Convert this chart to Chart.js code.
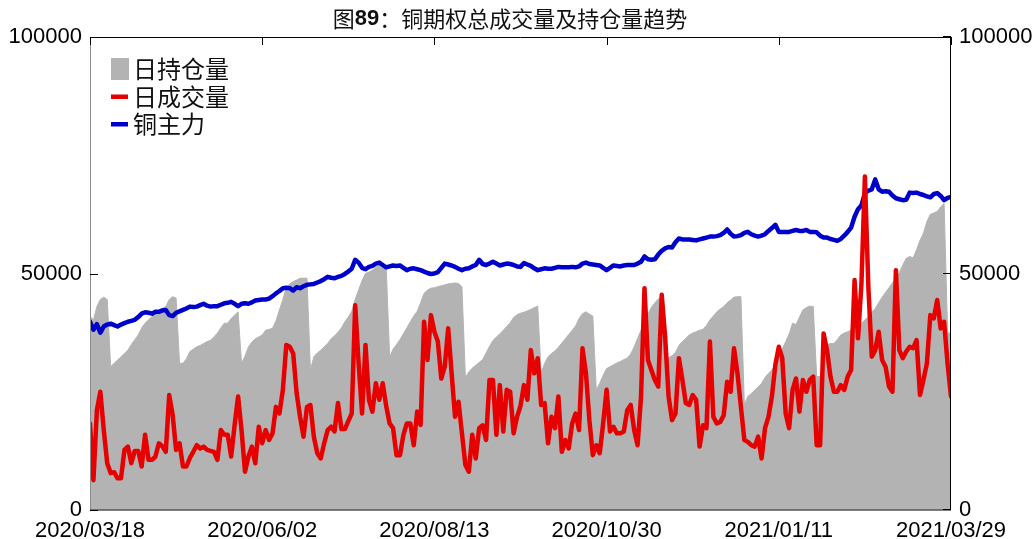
<!DOCTYPE html>
<html>
<head>
<meta charset="utf-8">
<script src="https://cdn.jsdelivr.net/npm/chart.js@4.4.1/dist/chart.umd.min.js"></script>
<style>
  html, body { margin: 0; padding: 0; background: #fff; }
  canvas { display: block; }
</style>
</head>
<body>
<canvas id="copperoptions" width="1035" height="539"></canvas>
<script>
// values, in thousands; one point per trading day
const UNIT = 1000;

const tickLabels = ['2020/03/18', '2020/06/02', '2020/08/13', '2020/10/30', '2021/01/11', '2021/03/29'];

// 日持仓量
const openInterest = [
  40.9,40.2,43.0,44.5,45.0,44.5,30.3,31.0,31.7,32.4,
  33.1,33.8,35.0,36.0,37.0,38.5,39.5,40.2,40.9,41.5,
  42.0,42.6,43.0,44.5,45.1,44.8,31.0,31.0,32.0,33.5,
  34.0,34.5,34.8,35.2,35.6,35.9,36.6,37.4,38.5,39.5,
  39.5,40.5,41.2,41.9,31.0,32.5,34.5,35.5,36.2,36.6,
  37.0,38.0,38.2,38.4,40.0,42.3,44.5,47.0,47.8,48.3,
  48.6,49.0,49.0,49.0,29.6,32.4,33.2,33.8,34.5,35.2,
  36.2,36.8,37.6,38.5,39.8,40.8,42.0,44.5,46.5,48.5,
  50.0,50.3,50.7,51.3,51.8,51.5,51.5,32.4,34.0,35.0,
  36.0,37.3,38.5,39.8,41.0,42.0,43.8,45.8,46.5,46.9,
  47.0,47.2,47.4,47.6,47.8,47.9,48.0,47.9,47.2,28.0,
  29.2,30.0,30.6,31.2,31.8,33.2,34.6,35.8,36.6,37.2,
  38.0,38.8,39.6,40.7,41.3,41.6,41.8,42.1,42.4,42.8,
  43.1,28.9,31.0,32.4,33.1,33.6,34.4,35.3,36.2,37.1,
  38.0,38.9,40.5,41.5,41.9,41.4,41.0,25.4,26.8,28.5,
  29.9,30.3,30.7,31.1,31.4,31.8,32.1,33.0,34.5,36.3,
  38.0,39.8,41.5,42.8,43.8,44.6,45.0,31.7,32.2,32.6,
  33.3,34.8,35.6,36.3,37.0,37.4,37.7,38.0,38.2,39.0,
  40.2,41.0,41.9,42.5,43.0,43.8,44.4,45.0,45.1,45.1,
  22.2,24.0,24.6,25.3,26.0,26.8,28.0,28.9,29.6,30.9,
  32.6,34.0,35.6,37.2,39.5,39.2,40.8,42.3,42.8,43.1,
  43.0,28.2,28.2,29.5,34.9,35.2,35.2,36.0,37.0,37.4,
  37.7,38.0,38.4,39.0,39.5,40.2,40.9,41.8,42.6,43.8,
  45.0,46.0,47.0,48.0,49.0,50.2,51.8,53.2,53.6,53.3,
  55.0,57.0,58.5,61.0,62.5,62.8,63.1,64.1,64.8,37.8,
  37.0
];

// 日成交量
const volume = [
  18.3,6.3,21.1,25.0,16.9,9.9,7.8,8.0,6.7,6.7,
  12.7,13.4,9.9,12.5,12.5,9.2,15.9,10.6,10.6,11.3,
  14.1,13.5,12.3,24.3,20.1,12.7,14.1,9.2,9.2,11.0,
  12.3,13.7,13.0,13.4,12.7,12.5,12.3,10.6,16.9,15.9,
  15.9,11.3,18.0,24.0,16.9,8.1,11.3,13.4,9.9,17.6,
  14.1,16.9,14.8,16.2,21.8,20.4,25.4,34.9,34.5,33.1,
  24.7,19.7,15.5,21.8,22.2,15.5,12.0,10.9,14.1,16.9,
  17.6,16.6,22.6,17.1,17.1,18.8,20.4,43.3,31.0,20.4,
  34.9,23.3,20.8,26.8,23.3,26.8,22.0,18.3,17.3,11.6,
  11.6,15.9,18.3,18.3,13.7,20.8,18.0,39.8,31.7,41.2,
  37.7,35.6,27.8,30.3,38.4,28.9,19.7,22.9,16.2,9.5,
  8.1,15.9,10.9,17.3,17.9,14.8,27.5,27.5,15.9,26.4,
  16.6,25.4,25.0,16.2,19.7,22.0,26.4,23.3,33.8,28.9,
  32.1,22.2,22.6,14.1,19.7,17.3,24.0,12.3,14.8,13.0,
  18.3,20.4,16.9,34.2,28.9,19.0,11.6,13.7,12.0,18.3,
  25.4,16.6,17.6,16.2,16.2,16.6,21.1,22.2,16.9,13.7,
  24.0,46.9,31.7,29.6,27.5,26.1,45.5,36.6,24.0,19.0,
  20.4,32.1,27.5,22.6,22.2,24.3,23.3,13.4,17.9,17.3,
  35.6,19.7,18.3,18.6,20.0,27.1,25.0,34.2,28.9,21.8,
  14.8,14.4,13.7,13.4,15.5,10.9,17.3,19.7,24.0,30.7,
  34.5,32.1,20.4,17.3,25.4,27.8,20.8,27.5,25.0,27.5,
  28.2,13.7,13.7,37.3,33.8,28.2,25.0,25.0,26.4,25.4,
  28.2,29.6,48.6,36.3,47.9,70.5,47.2,32.4,33.8,37.7,
  31.7,30.3,26.1,25.0,50.7,33.8,32.1,33.5,34.5,34.2,
  35.9,24.3,27.5,31.0,41.2,40.5,44.4,38.4,39.8,31.0,
  24.0
];

// 铜主力
const copperMain = [
  39.8,38.1,39.3,37.5,38.8,39.2,39.4,39.1,38.8,39.2,
  39.5,39.8,40.0,40.2,40.8,41.5,41.8,41.7,41.5,41.9,
  41.9,42.2,42.3,41.2,41.0,41.7,42.0,42.3,42.6,43.0,
  42.9,43.0,43.3,43.6,43.2,43.0,43.1,43.1,43.4,43.7,
  43.8,44.0,43.6,43.1,43.6,43.7,43.6,43.9,44.3,44.4,
  44.5,44.5,44.7,45.2,45.8,46.3,46.9,47.0,46.9,46.4,
  47.1,46.9,47.3,47.6,47.7,47.8,48.1,48.4,48.8,49.3,
  49.1,49.0,49.3,49.5,49.9,50.4,51.0,52.9,52.3,51.2,
  50.9,51.4,51.6,52.1,52.3,51.8,51.3,51.5,51.7,51.6,
  51.7,51.2,50.7,51.0,51.1,50.9,50.7,50.4,50.1,49.9,
  50.0,50.3,51.2,52.1,51.9,51.7,51.4,51.0,50.7,51.0,
  51.1,51.5,51.8,52.9,52.0,51.8,52.1,52.5,52.1,51.7,
  51.9,52.1,52.0,51.8,51.5,51.4,52.2,51.9,51.6,51.1,
  50.7,50.9,51.1,51.0,51.0,51.2,51.4,51.3,51.3,51.3,
  51.4,51.3,51.5,52.1,52.3,52.0,51.9,51.8,51.7,51.2,
  50.7,51.2,51.7,51.6,51.5,51.7,51.8,51.8,51.8,52.1,
  52.5,53.6,53.0,52.9,53.0,54.0,54.8,55.3,55.6,55.5,
  56.6,57.4,57.2,57.2,57.2,57.1,57.0,57.2,57.4,57.6,
  57.8,57.8,57.9,58.1,58.6,59.3,58.4,57.8,57.9,58.1,
  58.6,58.8,58.3,58.0,57.8,58.0,58.3,59.0,59.6,60.3,
  58.8,58.8,58.8,58.8,59.0,59.2,59.0,59.0,59.2,58.8,
  58.8,58.7,58.0,57.6,57.6,57.3,57.1,56.9,57.3,58.0,
  58.8,59.7,62.0,63.6,64.4,67.0,67.5,67.8,69.9,67.8,
  67.3,67.4,67.3,66.5,65.9,65.7,65.5,65.6,67.1,67.0,
  67.1,66.8,66.6,66.3,66.1,66.8,67.0,66.4,65.5,66.0,
  66.2
];

const toPoints = arr => arr.map((v, i) => ({ x: i, y: v * UNIT }));

const GRAY = 'rgb(179, 179, 179)';
const RED = 'rgb(230, 0, 0)';
const BLUE = 'rgb(0, 0, 205)';
const NUM_FONT = 'Liberation Sans';
const CJK_FONT = '"Noto Sans CJK SC"';

// frame, inward tick marks, title and legend
const decor = {
  id: 'decor',
  afterDatasetsDraw(chart) {
    const { ctx, chartArea: a, scales } = chart;
    ctx.save();
    ctx.lineWidth = 1;
    // left and bottom in gray, top and right in black
    ctx.strokeStyle = '#8c8c8c';
    ctx.beginPath(); ctx.moveTo(a.left + 0.5, a.top); ctx.lineTo(a.left + 0.5, a.bottom); ctx.stroke();
    ctx.strokeStyle = '#555';
    ctx.lineWidth = 1.5;
    ctx.beginPath(); ctx.moveTo(a.left, a.bottom); ctx.lineTo(a.right, a.bottom); ctx.stroke();
    ctx.lineWidth = 1;
    ctx.strokeStyle = '#000';
    ctx.beginPath();
    ctx.moveTo(a.left, a.top + 0.5); ctx.lineTo(a.right, a.top + 0.5);
    ctx.moveTo(a.right - 0.5, a.top); ctx.lineTo(a.right - 0.5, a.bottom);
    // ticks along the top
    scales.x.ticks.forEach(t => {
      const px = Math.round(scales.x.getPixelForValue(t.value)) + 0.5;
      ctx.moveTo(px, a.top); ctx.lineTo(px, a.top + 8);
    });
    scales.y.ticks.forEach(t => {
      const py = Math.round(scales.y.getPixelForValue(t.value)) + 0.5;
      ctx.moveTo(a.left, py); ctx.lineTo(a.left + 8, py);
    });
    scales.y2.ticks.forEach(t => {
      const py = Math.round(scales.y2.getPixelForValue(t.value)) - 0.5;
      ctx.moveTo(a.right, py); ctx.lineTo(a.right - 8, py);
    });
    ctx.stroke();
    ctx.restore();
  },
  afterDraw(chart) {
    const { ctx, chartArea: a } = chart;
    ctx.save();
    // title, "89" in bold
    const parts = [
      { text: '图', font: '22px ' + CJK_FONT },
      { text: '89', font: 'bold 22px ' + NUM_FONT },
      { text: '：铜期权总成交量及持仓量趋势', font: '22px ' + CJK_FONT }
    ];
    let total = 0;
    parts.forEach(p => { ctx.font = p.font; p.w = ctx.measureText(p.text).width; total += p.w; });
    let x = 510 - total / 2;
    ctx.fillStyle = '#111';
    ctx.textBaseline = 'middle';
    parts.forEach(p => { ctx.font = p.font; ctx.fillText(p.text, x, 19); x += p.w; });

    // legend
    ctx.font = '24px ' + CJK_FONT;
    chart.data.datasets.forEach((ds, i) => {
      const cy = a.top + 32 + i * 27.5;
      const lx = a.left + 21;
      if (ds.fill) {
        ctx.fillStyle = ds.backgroundColor;
        ctx.fillRect(lx, cy - 11, 18, 22);
      } else {
        ctx.fillStyle = ds.borderColor;
        ctx.fillRect(lx, cy - 2, 17, 4.5);
      }
      ctx.fillStyle = '#111';
      ctx.textAlign = 'left';
      ctx.fillText(ds.label, lx + 22, cy);
    });
    ctx.restore();
  }
};

const numTicks = {
  color: '#000',
  font: { family: NUM_FONT, size: 22 },
  padding: 8
};

new Chart(document.getElementById('copperoptions'), {
  type: 'line',
  data: {
    datasets: [
      {
        label: '日持仓量',
        data: toPoints(openInterest),
        yAxisID: 'y',
        fill: 'origin',
        backgroundColor: GRAY,
        borderColor: GRAY,
        borderWidth: 1,
        pointRadius: 0,
        order: 3
      },
      {
        label: '日成交量',
        data: toPoints(volume),
        yAxisID: 'y',
        fill: false,
        borderColor: RED,
        borderWidth: 4.5,
        borderJoinStyle: 'round',
        borderCapStyle: 'round',
        pointRadius: 0,
        order: 1
      },
      {
        label: '铜主力',
        data: toPoints(copperMain),
        yAxisID: 'y2',
        fill: false,
        borderColor: BLUE,
        borderWidth: 4.5,
        borderJoinStyle: 'round',
        borderCapStyle: 'round',
        pointRadius: 0,
        order: 2
      }
    ]
  },
  options: {
    responsive: false,
    animation: false,
    devicePixelRatio: 1,
    layout: { padding: { top: 37, left: 0, right: 0, bottom: 0 } },
    plugins: {
      legend: { display: false },
      title: { display: false },
      tooltip: { enabled: false }
    },
    scales: {
      x: {
        type: 'linear',
        min: 0,
        max: 250,
        offset: false,
        grid: { display: false, drawTicks: false },
        border: { display: false },
        ticks: {
          ...numTicks,
          stepSize: 50,
          autoSkip: false,
          maxRotation: 0,
          callback: (v, i) => tickLabels[i]
        },
        afterFit(scale) { scale.height = 29; }
      },
      y: {
        position: 'left',
        min: 0,
        max: 100000,
        grid: { display: false, drawTicks: false },
        border: { display: false },
        ticks: { ...numTicks, stepSize: 50000, callback: v => String(v) },
        afterFit(scale) { scale.width = 90; }
      },
      y2: {
        position: 'right',
        min: 0,
        max: 100000,
        grid: { display: false, drawTicks: false },
        border: { display: false },
        ticks: { ...numTicks, stepSize: 50000, callback: v => String(v) },
        afterFit(scale) { scale.width = 84; }
      }
    }
  },
  plugins: [decor]
});
</script>
</body>
</html>
